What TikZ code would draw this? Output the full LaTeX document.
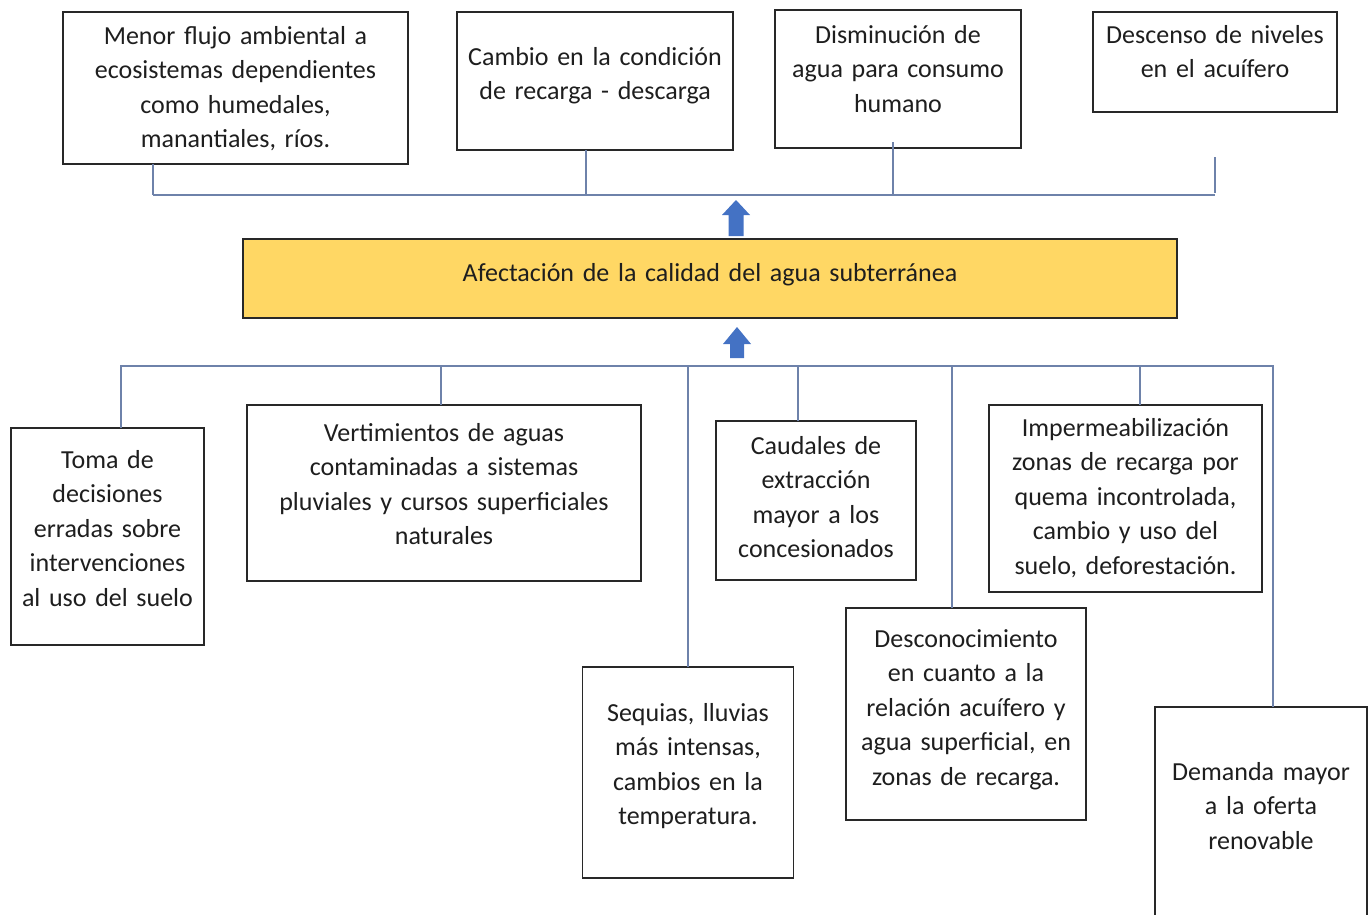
\documentclass[tikz,border=0pt]{standalone}
\usepackage{fontspec}
\setmainfont{Carlito}
\definecolor{boxline}{RGB}{40,40,40}
\definecolor{txtc}{RGB}{30,30,30}
\definecolor{connc}{RGB}{110,130,170}
\definecolor{gold}{RGB}{255,215,100}
\definecolor{arrowblue}{RGB}{68,114,196}
\tikzset{
  box/.style={draw=boxline, line width=1.6pt, fill=white, inner sep=0pt, outer sep=0pt},
  txt/.style={text=txtc, align=center, inner sep=0pt, anchor=base,
    font=\fontsize{26}{34.5}\selectfont},
  conn/.style={draw=connc, line width=1.4pt},
  blockarrow/.style={fill=arrowblue, draw=none}
}
\begin{document}
\begin{tikzpicture}[x=1pt,y=-1pt]
\useasboundingbox (0,0) rectangle (1368,914);
% top effect boxes
\node[box, minimum width=345, minimum height=152] (b1) at (235.5,88) {};
\node[box, minimum width=276, minimum height=138] (b2) at (595,81) {};
\node[box, minimum width=246, minimum height=138] (b3) at (898,79) {};
\node[box, minimum width=244, minimum height=100] (b4) at (1215,62) {};
\node[txt, text width=345] (t1) at (235.5,44) {Menor flujo ambiental a\\ecosistemas dependientes\\como humedales,\\manantiales, ríos.};
\node[txt, text width=276] (t2) at (595,65) {Cambio en la condición\\de recarga - descarga};
\node[txt, text width=246] (t3) at (898,43) {Disminución de\\agua para consumo\\humano};
\node[txt, text width=244] (t4) at (1215,43) {Descenso de niveles\\en el acuífero};
% central problem
\node[box, fill=gold, minimum width=934, minimum height=79] (m) at (710,278.5) {};
\node[txt, text width=934] (tm) at (710,281) {Afectación de la calidad del agua subterránea};
% cause boxes
\node[box, minimum width=193, minimum height=217] (c1) at (107.5,536.5) {};
\node[box, minimum width=394, minimum height=176] (c2) at (444,493) {};
\node[box, minimum width=211, minimum height=211] (c3) at (688,772.5) {};
\node[box, minimum width=200, minimum height=159] (c4) at (816,500.5) {};
\node[box, minimum width=240, minimum height=212] (c5) at (966,714) {};
\node[box, minimum width=273, minimum height=187] (c6) at (1125.5,498.5) {};
\node[box, minimum width=212, minimum height=218] (c7) at (1261,816) {};
\node[txt, text width=193] (s1) at (107.5,468) {Toma de\\decisiones\\erradas sobre\\intervenciones\\al uso del suelo};
\node[txt, text width=394] (s2) at (444,441) {Vertimientos de aguas\\contaminadas a sistemas\\pluviales y cursos superficiales\\naturales};
\node[txt, text width=211] (s3) at (688,721) {Sequias, lluvias\\más intensas,\\cambios en la\\temperatura.};
\node[txt, text width=200] (s4) at (816,454) {Caudales de\\extracción\\mayor a los\\concesionados};
\node[txt, text width=240] (s5) at (966,647) {Desconocimiento\\en cuanto a la\\relación acuífero y\\agua superficial, en\\zonas de recarga.};
\node[txt, text width=273] (s6) at (1125.5,436) {Impermeabilización\\zonas de recarga por\\quema incontrolada,\\cambio y uso del\\suelo, deforestación.};
\node[txt, text width=212] (s7) at (1261,780) {Demanda mayor\\a la oferta\\renovable};
% top bus
\coordinate (tL) at (153,195);
\coordinate (tR) at (1215,195);
\coordinate (t4s) at (1215,157);
\draw[conn] (tL) -- (tR);
\draw[conn] (b1.south -| tL) -- (tL);
\draw[conn] ([xshift=-9pt]b2.south) -- ([xshift=-9pt]b2.south |- tL);
\draw[conn] ([xshift=-5pt,yshift=6pt]b3.south) -- ([xshift=-5pt]b3.south |- tL);
\draw[conn] (t4s) -- ([yshift=2pt]tR);
% bottom bus
\coordinate (bL) at (121,366);
\coordinate (bR) at (1273,366);
\draw[conn] (c1.north -| bL) -- (bL) -- (bR) -- (c7.north -| bR);
\draw[conn] ([xshift=-3pt]c2.north) -- ([xshift=-3pt]c2.north |- bL);
\draw[conn] (c3.north) -- (c3.north |- bL);
\draw[conn] ([xshift=-18pt]c4.north) -- ([xshift=-18pt]c4.north |- bL);
\draw[conn] ([xshift=-14pt]c5.north) -- ([xshift=-14pt]c5.north |- bL);
\draw[conn] ([xshift=14.5pt]c6.north) -- ([xshift=14.5pt]c6.north |- bL);
% block arrows
\fill[blockarrow] (728.5,236) -- (728.5,215) -- (722,215) -- (736,200) -- (750,215) -- (743.5,215) -- (743.5,236) -- cycle;
\fill[blockarrow] (730,358) -- (730,344) -- (723,344) -- (737,327) -- (751,344) -- (744,344) -- (744,358) -- cycle;
\end{tikzpicture}
\end{document}
